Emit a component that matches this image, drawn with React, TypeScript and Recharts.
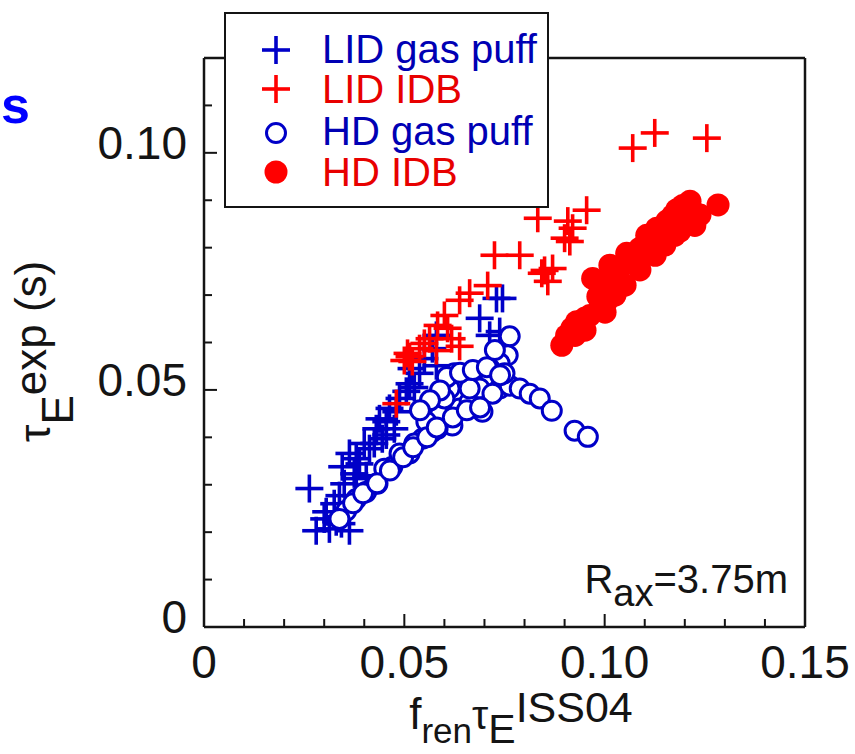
import React from 'react';
import { ScatterChart, Scatter, XAxis, YAxis } from 'recharts';

// tick positions (inner ticks every 0.01, labels on the 0.05 ones)
const xTicks = [0, 0.01, 0.02, 0.03, 0.04, 0.05, 0.06, 0.07, 0.08, 0.09, 0.1, 0.11, 0.12, 0.13, 0.14, 0.15];
const yTicks = [0, 0.01, 0.02, 0.03, 0.04, 0.05, 0.06, 0.07, 0.08, 0.09, 0.1, 0.11, 0.12];
const majorTicks = [0, 0.05, 0.1, 0.15];
const majorLabels = ['0', '0.05', '0.10', '0.15'];

// [f_ren * tauE_ISS04, tauE_exp]
const lidGasPuff = [
  [0.073, 0.0693], [0.0745, 0.0693], [0.0688, 0.0651], [0.0738, 0.0623], [0.0713, 0.0615],
  [0.058, 0.0615], [0.058, 0.0551], [0.057, 0.0587], [0.0538, 0.0535], [0.0513, 0.0513],
  [0.0505, 0.0497], [0.048, 0.0454], [0.0455, 0.0433], [0.043, 0.0418], [0.0413, 0.0376],
  [0.038, 0.0355], [0.0345, 0.0338], [0.038, 0.0313], [0.0405, 0.0319], [0.0338, 0.0277],
  [0.0305, 0.0243], [0.0263, 0.0292], [0.028, 0.0203], [0.0363, 0.0203], [0.033, 0.0222],
  [0.03, 0.0228], [0.0488, 0.0482], [0.0463, 0.0461], [0.0438, 0.0439], [0.0445, 0.0397],
  [0.04, 0.0387], [0.0363, 0.0366], [0.0388, 0.0344], [0.035, 0.0302], [0.0325, 0.026],
  [0.0518, 0.0545], [0.055, 0.0566], [0.0475, 0.0418], [0.0425, 0.0387], [0.0375, 0.0323],
  [0.0313, 0.0207], [0.0343, 0.0218], [0.0525, 0.0505], [0.0455, 0.0405],
];

const lidIdb = [
  [0.107, 0.101], [0.1125, 0.1042], [0.1255, 0.1031], [0.0833, 0.0862], [0.0908, 0.0856],
  [0.0955, 0.0879], [0.092, 0.0841], [0.09, 0.082], [0.0913, 0.0813], [0.0725, 0.0784],
  [0.0788, 0.0784], [0.0843, 0.0746], [0.087, 0.0756], [0.0858, 0.0729], [0.085, 0.0752],
  [0.0708, 0.072], [0.0663, 0.0704], [0.0638, 0.0689], [0.06, 0.0657], [0.0583, 0.0636],
  [0.0618, 0.0608], [0.0638, 0.0592], [0.0563, 0.0608], [0.0538, 0.0587], [0.0513, 0.057],
  [0.052, 0.056], [0.058, 0.0583], [0.048, 0.0471], [0.055, 0.0598], [0.05, 0.0562],
  [0.0608, 0.063], [0.0508, 0.0577],
];

const hdGasPuff = [
  [0.0763, 0.0613], [0.0758, 0.0573], [0.0738, 0.0556], [0.0713, 0.0545], [0.0688, 0.0539],
  [0.0663, 0.053], [0.0645, 0.0518], [0.068, 0.0482], [0.0713, 0.0518], [0.0738, 0.0503],
  [0.0763, 0.0509], [0.0788, 0.0503], [0.0813, 0.0492], [0.0838, 0.0482], [0.0868, 0.0456],
  [0.0925, 0.0414], [0.0958, 0.0401], [0.063, 0.0488], [0.0605, 0.0467], [0.0588, 0.0446],
  [0.057, 0.0412], [0.0638, 0.0461], [0.0695, 0.0454], [0.0663, 0.0475], [0.062, 0.0425],
  [0.0555, 0.0433], [0.0545, 0.0397], [0.0513, 0.0366], [0.047, 0.0338], [0.0433, 0.0302],
  [0.0405, 0.0285], [0.038, 0.027], [0.0355, 0.0245], [0.0338, 0.0228], [0.0613, 0.0503],
  [0.06, 0.0482], [0.0688, 0.0503], [0.072, 0.0492], [0.075, 0.0535], [0.0583, 0.0418],
  [0.0525, 0.0387], [0.0488, 0.0366], [0.045, 0.0334], [0.0663, 0.0503], [0.0625, 0.0535],
  [0.0372, 0.0261], [0.0397, 0.0282], [0.0432, 0.0303], [0.0464, 0.033], [0.0497, 0.0358],
  [0.0522, 0.0379], [0.0557, 0.04], [0.0581, 0.0421], [0.0621, 0.0442], [0.0656, 0.0457],
  [0.0689, 0.0463], [0.0606, 0.0527], [0.0639, 0.0536], [0.0671, 0.0542], [0.0706, 0.0548],
  [0.0589, 0.0499], [0.0564, 0.0478], [0.0539, 0.0457], [0.0726, 0.0584], [0.0739, 0.0531],
];

const hdIdb = [
  [0.0893, 0.0594], [0.0905, 0.0615], [0.0918, 0.063], [0.093, 0.0644], [0.095, 0.0651],
  [0.0963, 0.0657], [0.0988, 0.0672], [0.1005, 0.0687], [0.097, 0.0735], [0.0995, 0.0725],
  [0.102, 0.0742], [0.1013, 0.0763], [0.1038, 0.0756], [0.1055, 0.0788], [0.1088, 0.0799],
  [0.107, 0.0771], [0.1105, 0.0826], [0.113, 0.0841], [0.1155, 0.0856], [0.117, 0.0868],
  [0.1195, 0.0889], [0.1213, 0.0898], [0.1205, 0.0862], [0.1188, 0.0835], [0.122, 0.0877],
  [0.1138, 0.0809], [0.1113, 0.0788], [0.1033, 0.0714], [0.0983, 0.0697], [0.1125, 0.082],
  [0.116, 0.083], [0.118, 0.088], [0.0926, 0.0615], [0.0951, 0.0626], [0.1001, 0.0664],
  [0.1026, 0.07], [0.1051, 0.0721], [0.1088, 0.0753], [0.1126, 0.0784], [0.115, 0.0805],
  [0.1175, 0.0826], [0.1238, 0.0869], [0.1225, 0.0847], [0.1101, 0.0805], [0.1063, 0.0778],
  [0.1283, 0.089],
];

const BLUE = '#0000c8';
const RED = '#ff0000';
const INK = '#141414';
const FONT = '"Liberation Sans", Arial, sans-serif';

const toPoints = (rows: number[][]) => rows.map(([x, y]) => ({ x, y }));

const Plus = ({ cx, cy, color }: any) => (
  <g>
    <line x1={cx - 14} y1={cy} x2={cx + 14} y2={cy} stroke={color} strokeWidth={3.6} />
    <line x1={cx} y1={cy - 14} x2={cx} y2={cy + 14} stroke={color} strokeWidth={3.6} />
  </g>
);

const Ring = ({ cx, cy }: any) => (
  <circle cx={cx} cy={cy} r={9.5} fill="#fff" stroke={BLUE} strokeWidth={3} />
);

const Dot = ({ cx, cy }: any) => <circle cx={cx} cy={cy} r={11.5} fill={RED} />;

const makeTick = (side: 'left' | 'right' | 'top' | 'bottom') => (props: any) => {
  const { x, y, payload } = props;
  const idx = majorTicks.findIndex((m) => Math.abs(m - payload.value) < 1e-9);
  const len = idx >= 0 ? 13 : 8;
  let line;
  if (side === 'left') line = <line x1={x} y1={y} x2={x + len} y2={y} stroke={INK} strokeWidth={2} />;
  else if (side === 'right') line = <line x1={x} y1={y} x2={x - len} y2={y} stroke={INK} strokeWidth={2} />;
  else if (side === 'bottom') line = <line x1={x} y1={y} x2={x} y2={y - len} stroke={INK} strokeWidth={2} />;
  else line = <line x1={x} y1={y} x2={x} y2={y + len} stroke={INK} strokeWidth={2} />;
  let label = null;
  if (idx >= 0 && side === 'left') {
    label = (
      <text x={x - 17} y={y + 6} textAnchor="end" fontSize={46} fill={INK} fontFamily={FONT}>
        {majorLabels[idx]}
      </text>
    );
  }
  if (idx >= 0 && side === 'bottom') {
    label = (
      <text x={x} y={y + 51} textAnchor="middle" fontSize={46} fill={INK} fontFamily={FONT}>
        {majorLabels[idx]}
      </text>
    );
  }
  return (
    <g>
      {line}
      {label}
    </g>
  );
};

const axisLine = { stroke: INK, strokeWidth: 2.5 };

const legendRows = [
  { name: 'LID gas puff', color: BLUE, kind: 'plus', cy: 50, base: 63 },
  { name: 'LID IDB', color: RED, kind: 'plus', cy: 89, base: 103 },
  { name: 'HD gas puff', color: BLUE, kind: 'ring', cy: 133, base: 145 },
  { name: 'HD IDB', color: RED, kind: 'dot', cy: 172, base: 186 },
];

export default function App() {
  return (
    <div style={{ position: 'absolute', left: 0, top: 0, width: 855, height: 754, background: '#fff', overflow: 'hidden' }}>
      <ScatterChart width={855} height={754} margin={{ top: 38, right: 30, bottom: 107, left: 184 }}>
        <XAxis
          xAxisId="b"
          type="number"
          dataKey="x"
          domain={[0, 0.15]}
          ticks={xTicks}
          interval={0}
          height={20}
          tickSize={0}
          tickMargin={0}
          tickLine={false}
          axisLine={axisLine}
          tick={makeTick('bottom')}
        />
        <XAxis
          xAxisId="t"
          orientation="top"
          type="number"
          domain={[0, 0.15]}
          ticks={xTicks}
          interval={0}
          height={20}
          tickSize={0}
          tickMargin={0}
          tickLine={false}
          axisLine={axisLine}
          tick={makeTick('top')}
        />
        <YAxis
          yAxisId="l"
          type="number"
          dataKey="y"
          domain={[0, 0.12]}
          ticks={yTicks}
          interval={0}
          width={20}
          tickSize={0}
          tickMargin={0}
          tickLine={false}
          axisLine={axisLine}
          tick={makeTick('left')}
        />
        <YAxis
          yAxisId="r"
          orientation="right"
          type="number"
          domain={[0, 0.12]}
          ticks={yTicks}
          interval={0}
          width={20}
          tickSize={0}
          tickMargin={0}
          tickLine={false}
          axisLine={axisLine}
          tick={makeTick('right')}
        />
        <Scatter xAxisId="b" yAxisId="l" name="LID gas puff" data={toPoints(lidGasPuff)} isAnimationActive={false}
          shape={(p: any) => <Plus cx={p.cx} cy={p.cy} color={BLUE} />} />
        <Scatter xAxisId="b" yAxisId="l" name="LID IDB" data={toPoints(lidIdb)} isAnimationActive={false}
          shape={(p: any) => <Plus cx={p.cx} cy={p.cy} color={RED} />} />
        <Scatter xAxisId="b" yAxisId="l" name="HD gas puff" data={toPoints(hdGasPuff)} isAnimationActive={false}
          shape={(p: any) => <Ring cx={p.cx} cy={p.cy} />} />
        <Scatter xAxisId="b" yAxisId="l" name="HD IDB" data={toPoints(hdIdb)} isAnimationActive={false}
          shape={(p: any) => <Dot cx={p.cx} cy={p.cy} />} />
      </ScatterChart>

      <svg width={855} height={754} style={{ position: 'absolute', left: 0, top: 0, pointerEvents: 'none' }} fontFamily={FONT}>
        <text x={30} y={123} textAnchor="end" fontSize={52} fontWeight="bold" fill="#0000ff">s</text>

        <rect x={225} y={13} width={323} height={194} fill="#fff" stroke={INK} strokeWidth={2} />
        {legendRows.map((r) => (
          <g key={r.name}>
            {r.kind === 'plus' && <Plus cx={276} cy={r.cy} color={r.color} />}
            {r.kind === 'ring' && <Ring cx={276} cy={r.cy} />}
            {r.kind === 'dot' && <Dot cx={276} cy={r.cy} />}
            <text x={322} y={r.base} fontSize={40} fill={r.color === BLUE ? '#0000b4' : '#e80000'}>{r.name}</text>
          </g>
        ))}

        <text x={788} y={593} textAnchor="end" fontSize={40} fill={INK}>
          R<tspan dy={13} fontSize={38}>ax</tspan><tspan dy={-13}>=3.75m</tspan>
        </text>

        <text x={521} y={729} textAnchor="middle" fontSize={44} fill={INK}>
          f<tspan dy={14} fontSize={35}>ren</tspan>
          <tspan dy={-14} fontSize={41}>τ</tspan>
          <tspan dy={14} fontSize={41}>E</tspan>
          <tspan dy={-21} fontSize={43}>ISS04</tspan>
        </text>

        <text transform="translate(50,442) rotate(-90)" fontSize={44} fill={INK}>
          τ<tspan dy={23}>E</tspan>
          <tspan dy={-27}>exp (s)</tspan>
        </text>
      </svg>
    </div>
  );
}
